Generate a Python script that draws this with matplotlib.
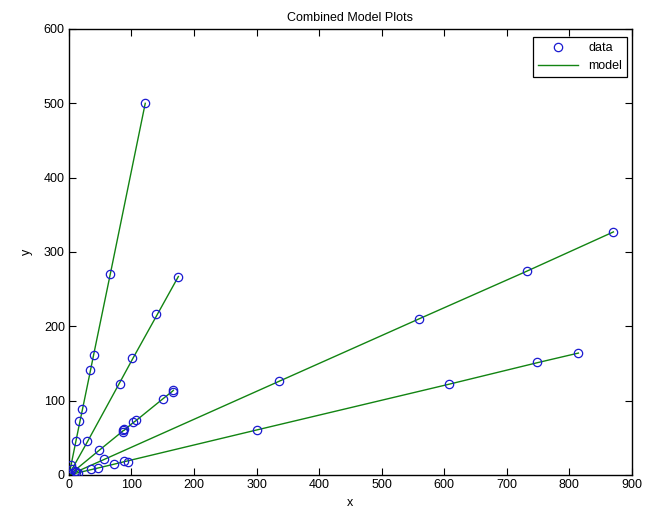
import matplotlib
matplotlib.use('Agg')
import matplotlib.pyplot as plt

plt.rcParams['font.family'] = ['Liberation Sans', 'DejaVu Sans']

# data, one group per fitted line
xa = [0.5, 3, 10.7, 16.5, 21, 33, 39.5, 66, 122]
ya = [2, 13, 46, 72.6, 88.5, 141, 162, 270, 500]
ma = [2, 12, 44, 68, 86, 135, 162, 270, 500]

xb = [5, 29, 81, 101, 140, 175]
yb = [8, 46, 123, 157, 216, 267]
mb = [8, 44, 124, 155, 214, 267]

xc = [9, 48, 86, 87, 88, 102, 107, 151, 166, 167]
yc = [6, 33, 58, 60, 62, 71, 74, 102, 112, 114]
mc = [6, 33, 59, 60, 60, 70, 73, 103, 113, 114]

xd = [11, 56.5, 336, 560, 732, 871]
yd = [4, 22, 127, 209.5, 274, 326.5]
md = [4, 21, 126, 210, 274, 327]

xe = [2, 14, 36, 46, 72.5, 88.5, 94, 300, 607.5, 749, 815]
ye = [1, 3, 8.5, 10, 15, 18.8, 18, 60.5, 122, 151.6, 163.7]
me = [0.4, 3, 7.3, 9.3, 14.6, 17.9, 19, 60.5, 122, 151, 164]

groups = [(xa, ya, ma), (xb, yb, mb), (xc, yc, mc), (xd, yd, md), (xe, ye, me)]

fig = plt.figure(figsize=(6.46, 5.13), dpi=100)
ax = fig.add_axes([0.1068, 0.0741, 0.8708, 0.8694])

for i, (gx, gy, gm) in enumerate(groups):
    ax.plot(gx, gy, 'o', mfc='none', mec='#1a1ad0', ms=6, mew=0.9,
            label='data' if i == 0 else None, zorder=3)
    ax.plot(gx, gm, '-', color='#128412', lw=1.0,
            label='model' if i == 0 else None, zorder=2)

ax.set_xlim(0, 900)
ax.set_ylim(0, 600)
ax.set_xticks(range(0, 901, 100))
ax.set_yticks(range(0, 601, 100))
ax.tick_params(direction='in', top=True, right=True, length=5, width=0.8,
               labelsize=9, pad=3)
for s in ax.spines.values():
    s.set_linewidth(1.0)

ax.set_xlabel('x', fontsize=9, labelpad=4)
ax.set_ylabel('y', fontsize=9, labelpad=8)
ax.set_title('Combined Model Plots', fontsize=9, pad=6)

leg = ax.legend(loc='upper right', bbox_to_anchor=(0.992, 0.982), borderaxespad=0,
                fontsize=9, fancybox=False, framealpha=1, edgecolor='black',
                handlelength=3.2, borderpad=0.4, labelspacing=0.5)
leg.get_frame().set_linewidth(0.9)

fig.savefig('out.png', dpi=100, facecolor='white')
